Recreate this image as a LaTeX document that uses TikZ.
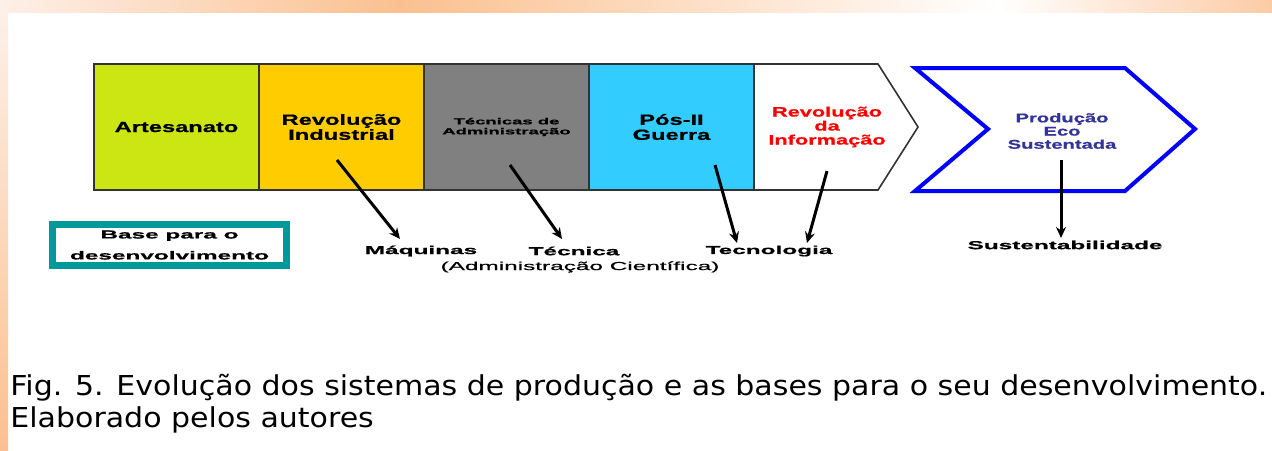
\documentclass[tikz,border=0pt]{standalone}
\usepackage{fontspec}
\setmainfont{Liberation Sans}
\newfontfamily\boxfont[FakeStretch=1.6,FakeBold=0.8]{Liberation Sans}
\newfontfamily\lblfont[FakeStretch=2.1,FakeBold=0.8]{Liberation Sans}
\newfontfamily\capfont[FakeStretch=1.095]{DejaVu Sans}
\usetikzlibrary{arrows.meta}
\definecolor{cLime}{RGB}{204,230,20}
\definecolor{cGold}{RGB}{255,204,0}
\definecolor{cGray}{RGB}{128,128,128}
\definecolor{cSky}{RGB}{51,204,255}
\definecolor{cTeal}{RGB}{0,153,153}
\definecolor{cIndigo}{RGB}{51,51,153}
\definecolor{cOrPk}{RGB}{251,192,143}
\definecolor{cOrLt}{RGB}{253,240,232}
\definecolor{cOrR}{RGB}{252,203,165}
\begin{document}
\begin{tikzpicture}[x=0.5pt,y=-0.5pt,
  stage/.style={draw=black!80, line width=0.8pt, minimum width=82.5pt, minimum height=63pt, inner sep=0pt, align=center,
    font={\fontsize{7.4}{7.5}\boxfont\bfseries}},
  lbl/.style={inner sep=0pt, align=center, font={\fontsize{5.8}{6}\lblfont\bfseries}},
  arr/.style={line width=1.5pt, -{Stealth[length=5.5pt,width=5pt]}},
  capt/.style={anchor=base west, inner sep=0pt, font={\fontsize{13.7}{16}\capfont}}
]
\useasboundingbox (0,0) rectangle (1272,450);
\fill[white] (0,0) rectangle (1272,450);
% decorative band
\shade[left color=cOrLt, right color=cOrPk] (0,0) rectangle (400,12);
\shade[left color=cOrPk, right color=white] (399,0) rectangle (1000,12);
\shade[left color=white, right color=cOrR] (999,0) rectangle (1272,12);
\shade[top color=cOrLt, bottom color=cOrPk] (0,12) rectangle (8,450);

% stages
\node[stage, fill=cLime] (art) at (176.5,127) {Artesanato};
\node[stage, fill=cGold] (rind) at (341.5,127) {Revolução\\Industrial};
\node[stage, fill=cGray, font={\fontsize{4.4}{5}\lblfont\bfseries}] (tadm) at (506.5,127) {Técnicas de\\Administração};
\node[stage, fill=cSky] (pos) at (671.5,127) {Pós-II\\Guerra};
\draw[black!80, line width=0.8pt, fill=white] (754,64) -- (878,64) -- (918,127) -- (878,190) -- (754,190) -- cycle;
\node[inner sep=0pt, align=center, text=red, font={\fontsize{6.8}{7}\boxfont\bfseries}] (rinf) at (827,127) {Revolução\\da\\Informação};
\draw[blue, line width=2pt] (915,68) -- (1125,68) -- (1195,129) -- (1125,191) -- (915,191) -- (988,129) -- cycle;
\node[inner sep=0pt, align=center, text=cIndigo, font={\fontsize{6.3}{6.6}\boxfont\bfseries}] (eco) at (1062,131) {Produção\\Eco\\Sustentada};

% base box
\node[draw=cTeal, line width=3.5pt, fill=white, minimum width=117pt, minimum height=20.5pt, inner sep=0pt, align=center,
  font={\fontsize{5.8}{10.5}\lblfont\bfseries}] (base) at (169.5,245) {Base para o\\desenvolvimento};

% labels
\node[lbl] (maq) at (421,251) {Máquinas};
\node[lbl] (tec) at (574,251) {Técnica};
\node[lbl, font={\fontsize{5.8}{6}\lblfont}] (adm) at (580,267) {(Administração Científica)};
\node[lbl] (tecn) at (769,251) {Tecnologia};
\node[lbl] (sust) at (1065,245) {Sustentabilidade};

% arrows
\coordinate (a1s) at (337,160); \coordinate (a1e) at (400,239);
\coordinate (a2s) at (510,165); \coordinate (a2e) at (562,239);
\coordinate (a3s) at (715,165); \coordinate (a3e) at (737,243);
\coordinate (a4s) at (827,171); \coordinate (a4e) at (807,243);
\coordinate (a5s) at (1061,160); \coordinate (a5e) at (1061,238);
\draw[arr] (a1s) -- (a1e);
\draw[arr] (a2s) -- (a2e);
\draw[arr] (a3s) -- (a3e);
\draw[arr] (a4s) -- (a4e);
\draw[arr] (a5s) -- (a5e);

% caption
\node[capt] (cap1) at (10,395) {Fig. 5. Evolução dos sistemas de produção e as bases para o seu desenvolvimento.};
\node[capt] (cap2) at (10,427) {Elaborado pelos autores};
\end{tikzpicture}
\end{document}
